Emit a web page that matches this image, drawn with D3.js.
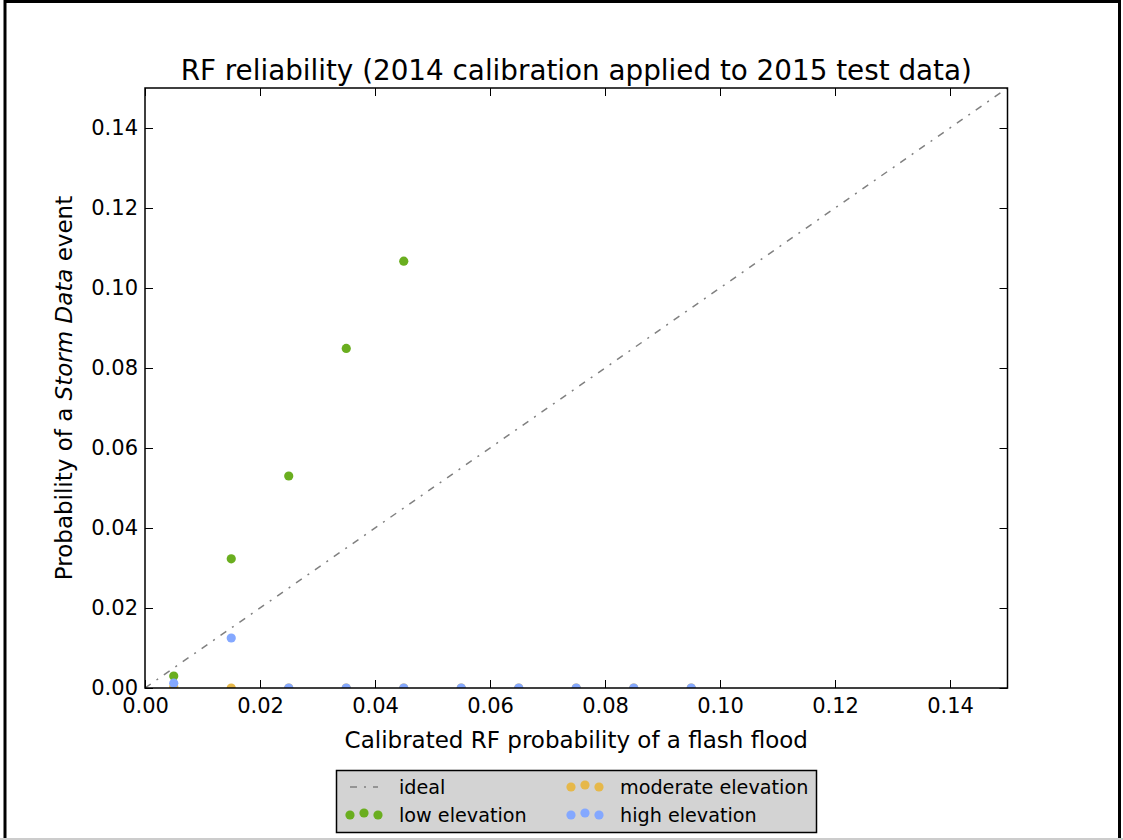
<!DOCTYPE html>
<html><head><meta charset="utf-8">
<script src="https://cdn.jsdelivr.net/npm/d3@7"></script>
<style>body{margin:0;background:#fff}svg{display:block}text{font-family:"DejaVu Sans",sans-serif;fill:#000}</style>
</head><body>
<script>
const xTicks=[0.00,0.02,0.04,0.06,0.08,0.10,0.12,0.14];
const yTicks=[0.00,0.02,0.04,0.06,0.08,0.10,0.12,0.14];
const lowX=[0.005,0.015,0.025,0.035,0.045];
const lowY=[0.003,0.0323,0.053,0.0849,0.1067];
const modX=[0.005,0.015,0.025,0.035,0.045,0.055,0.065,0.075,0.085,0.095];
const modY=[0.0003,0,0,0,0,0,0,0,0,0];
const highX=[0.005,0.015,0.025,0.035,0.045,0.055,0.065,0.075,0.085,0.095];
const highY=[0.0012,0.0125,0,0,0,0,0,0,0,0];
const idealX=[0,0.15];
const idealY=[0,0.15];
const series=[
 {name:"low elevation",xs:lowX,ys:lowY,color:"#6aae1f"},
 {name:"moderate elevation",xs:modX,ys:modY,color:"#e6b84a"},
 {name:"high elevation",xs:highX,ys:highY,color:"#84a8ff"}
];
const W=1123,H=840;
const svg=d3.select("body").append("svg").attr("width",W).attr("height",H);
svg.append("rect").attr("x",5).attr("y",1.5).attr("width",1114.5).attr("height",845).attr("fill","none").attr("stroke","#000").attr("stroke-width",3);
svg.append("line").attr("x1",0).attr("x2",W).attr("y1",839).attr("y2",839).attr("stroke","#ccc").attr("stroke-width",2);
const L=145,R=1007.5,T=88,B=688;
const x=d3.scaleLinear().domain([0,0.15]).range([L,R]);
const y=d3.scaleLinear().domain([0,0.15]).range([B,T]);
svg.append("defs").append("clipPath").attr("id","clip").append("rect").attr("x",L).attr("y",T).attr("width",R-L).attr("height",B-T);
const plot=svg.append("g").attr("clip-path","url(#clip)");
plot.append("path").datum(idealX.map((v,i)=>[v,idealY[i]]))
 .attr("d",d3.line().x(d=>x(d[0])).y(d=>y(d[1])))
 .attr("stroke","#808080").attr("stroke-width",1.5).attr("fill","none").attr("stroke-dasharray","7,7,2,7");
series.forEach(s=>{
 plot.selectAll(null).data(s.xs.map((v,i)=>[v,s.ys[i]])).enter().append("circle")
  .attr("cx",d=>x(d[0])).attr("cy",d=>y(d[1])).attr("r",4.6).attr("fill",s.color);
});
const fmt=d3.format(".2f");
const ax=svg.append("g").attr("transform",`translate(0,${B})`).call(d3.axisBottom(x).tickValues(xTicks).tickFormat(fmt).tickSize(-8).tickPadding(10));
const axT=svg.append("g").attr("transform",`translate(0,${T})`).call(d3.axisTop(x).tickValues(xTicks).tickFormat("").tickSize(-8));
const ay=svg.append("g").attr("transform",`translate(${L},0)`).call(d3.axisLeft(y).tickValues(yTicks).tickFormat(fmt).tickSize(-8).tickPadding(7));
const ayR=svg.append("g").attr("transform",`translate(${R},0)`).call(d3.axisRight(y).tickValues(yTicks).tickFormat("").tickSize(-8));
[ax,axT,ay,ayR].forEach(g=>{g.select(".domain").remove();g.selectAll("line").attr("stroke","#000").attr("stroke-width",1);g.selectAll("text").style("font-size","21px").attr("fill","#000");});
svg.append("rect").attr("x",L).attr("y",T).attr("width",R-L).attr("height",B-T).attr("fill","none").attr("stroke","#000").attr("stroke-width",1.5);
svg.append("text").attr("x",(L+R)/2).attr("y",80).attr("text-anchor","middle").style("font-size","27.8px").text("RF reliability (2014 calibration applied to 2015 test data)");
svg.append("text").attr("x",(L+R)/2).attr("y",748).attr("text-anchor","middle").style("font-size","23px").text("Calibrated RF probability of a flash flood");
const yl=svg.append("text").attr("transform",`translate(72,${(T+B)/2}) rotate(-90)`).attr("text-anchor","middle").style("font-size","23px");
yl.append("tspan").text("Probability of a ");
yl.append("tspan").attr("font-style","italic").text("Storm Data");
yl.append("tspan").text(" event");
const lg=svg.append("g");
lg.append("rect").attr("x",336.5).attr("y",770.5).attr("width",480).attr("height",62).attr("fill","#d3d3d3").attr("stroke","#000").attr("stroke-width",1.5);
lg.append("line").attr("x1",350).attr("x2",378).attr("y1",787).attr("y2",787).attr("stroke","#808080").attr("stroke-width",1.5).attr("stroke-dasharray","7,7,2,7");
lg.append("text").attr("x",399).attr("y",794).style("font-size","19.2px").text("ideal");
const pos=[[350,815,399,822],[571,787,620,794],[571,815,620,822]];
series.forEach((s,i)=>{
 const [dx,dy,tx,ty]=pos[i];
 [0,14,28].forEach((o,j)=>lg.append("circle").attr("cx",dx+o).attr("cy",dy+(j===1?-2:0)).attr("r",4.6).attr("fill",s.color));
 lg.append("text").attr("x",tx).attr("y",ty).style("font-size","19.2px").text(s.name);
});
</script>
</body></html>
